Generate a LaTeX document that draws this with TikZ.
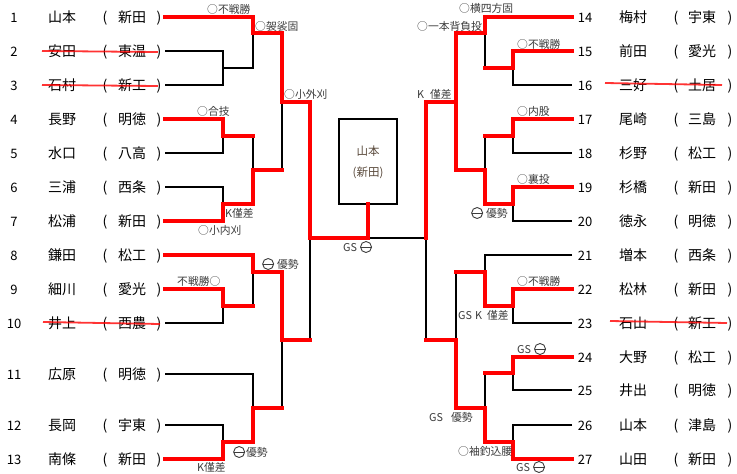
\documentclass[tikz,border=0pt]{standalone}
\usepackage{fontspec}
\setmainfont{Noto Sans CJK JP}
\definecolor{lblc}{HTML}{3C3C3C}
\definecolor{boxc}{HTML}{5A4A3C}
\definecolor{winred}{HTML}{FF0000}
\newcommand{\cminus}{\tikz[baseline=-4pt,x=1pt,y=1pt]{\draw[line width=0.9pt,lblc] (0,0) circle (5.5); \draw[line width=0.9pt,lblc] (-5.5,0)--(5.5,0);}}
\begin{document}
\begin{tikzpicture}[x=1pt,y=-1pt,
  numf/.style={font=\fontsize{13}{13}\selectfont,inner sep=0pt,anchor=base},
  namef/.style={font=\fontsize{14}{14}\selectfont,inner sep=0pt,anchor=base},
  lbl/.style={font=\fontsize{10.8}{10.8}\selectfont,inner sep=0pt,anchor=base west,text=lblc},
  blk/.style={draw=black,line width=1.2pt,line join=miter},
  rd/.style={draw=winred,line width=3.6pt,line join=miter,line cap=rect},
  strike/.style={draw=winred,line width=1.8pt,opacity=0.8}]
\useasboundingbox (0,0) rectangle (737,474);
\fill[white] (0,0) rectangle (737,474);

% players left
\foreach \n/\nm/\sc/\y in {1/山本/新田/17,2/安田/東温/51,3/石村/新工/85,4/長野/明徳/119,5/水口/八高/153,6/三浦/西条/187,7/松浦/新田/221,8/鎌田/松工/255,9/細川/愛光/289,10/井上/西農/323,11/広原/明徳/374,12/長岡/宇東/425,13/南條/新田/459}{
  \node[numf] (ln\n) at (14,\y+5) {\n};
  \node[namef] (lnm\n) at (62,\y+5.5) {\nm};
  \node[namef] (lpo\n) at (105,\y+5) {(};
  \node[namef] (lsc\n) at (132,\y+5.5) {\sc};
  \node[namef] (lpc\n) at (159,\y+5) {)};
}
% players right
\foreach \n/\nm/\sc/\y in {14/梅村/宇東/17,15/前田/愛光/51,16/三好/土居/85,17/尾崎/三島/119,18/杉野/松工/153,19/杉橋/新田/187,20/徳永/明徳/221,21/増本/西条/255,22/松林/新田/289,23/石山/新工/323,24/大野/松工/357,25/井出/明徳/390,26/山本/津島/425,27/山田/新田/459}{
  \node[numf] (rn\n) at (585,\y+5) {\n};
  \node[namef] (rnm\n) at (633,\y+5.5) {\nm};
  \node[namef] (rpo\n) at (676,\y+5) {(};
  \node[namef] (rsc\n) at (702,\y+5.5) {\sc};
  \node[namef] (rpc\n) at (730,\y+5) {)};
}

% champion box
\node[draw=black,line width=1.2pt,minimum width=58pt,minimum height=85pt,inner sep=0pt] (champ) at (368,161.5) {};
\node[font=\fontsize{11.5}{11.5}\selectfont,text=boxc,inner sep=0pt,anchor=base] (chn) at (368,155.5) {山本};
\node[font=\fontsize{11.5}{11.5}\selectfont,text=boxc,inner sep=0pt,anchor=base] (chs) at (368,176.5) {(新田)};

% black lines left
\draw[blk] (165,51) -- (223,51) -- (223,85) -- (165,85);
\draw[blk] (223,68) -- (253,68) -- (253,33);
\draw[blk] (223,136) -- (223,153) -- (165,153);
\draw[blk] (165,187) -- (223,187) -- (223,204);
\draw[blk] (253,136) -- (253,170);
\draw[blk] (282,102) -- (282,170);
\draw[blk] (253,272) -- (253,306);
\draw[blk] (165,323) -- (223,323) -- (223,306);
\draw[blk] (165,374) -- (253,374) -- (253,408);
\draw[blk] (165,425) -- (223,425) -- (223,442);
\draw[blk] (282,340) -- (282,408);
\draw[blk] (310,238) -- (310,340);
\draw[blk] (368,238) -- (426,238) -- (426,340);
% black lines right
\draw[blk] (485,33) -- (485,68);
\draw[blk] (513,68) -- (513,85) -- (572,85);
\draw[blk] (513,136) -- (513,153) -- (572,153);
\draw[blk] (485,136) -- (485,170);
\draw[blk] (513,204) -- (513,221) -- (572,221);
\draw[blk] (572,255) -- (485,255) -- (485,272);
\draw[blk] (513,306) -- (513,323) -- (572,323);
\draw[blk] (456,272) -- (456,340);
\draw[blk] (485,373) -- (485,408);
\draw[blk] (513,373) -- (513,390) -- (572,390);
\draw[blk] (572,425) -- (513,425) -- (513,442);

% red lines left
\draw[rd] (165,17) -- (253,17) -- (253,33) -- (282,33) -- (282,102) -- (310,102) -- (310,238) -- (368,238) -- (368,204);
\draw[rd] (165,119) -- (223,119) -- (223,136) -- (253,136);
\draw[rd] (165,221) -- (223,221) -- (223,204) -- (253,204) -- (253,170) -- (282,170);
\draw[rd] (165,255) -- (253,255) -- (253,272) -- (282,272) -- (282,340) -- (310,340);
\draw[rd] (165,289) -- (223,289) -- (223,306) -- (253,306);
\draw[rd] (165,459) -- (223,459) -- (223,442) -- (253,442) -- (253,408) -- (282,408);
% red lines right
\draw[rd] (572,17) -- (485,17) -- (485,33) -- (456,33) -- (456,102) -- (426,102) -- (426,238);
\draw[rd] (572,51) -- (513,51) -- (513,68) -- (485,68);
\draw[rd] (572,119) -- (513,119) -- (513,136) -- (485,136);
\draw[rd] (572,187) -- (513,187) -- (513,204) -- (485,204) -- (485,170) -- (456,170) -- (456,102);
\draw[rd] (572,289) -- (513,289) -- (513,306) -- (485,306) -- (485,272) -- (456,272);
\draw[rd] (572,357) -- (513,357) -- (513,373) -- (485,373);
\draw[rd] (572,459) -- (513,459) -- (513,442) -- (485,442) -- (485,408) -- (456,408) -- (456,340) -- (426,340);

% strike-throughs
\draw[strike] (42,51) -- (158,52);
\draw[strike] (42,85) -- (158,86);
\draw[strike] (43,322) -- (160,324);
\draw[strike] (605,83) -- (722,85);
\draw[strike] (610,321) -- (727,323);

% labels left
\node[lbl] (a1) at (207,13) {○不戦勝};
\node[lbl] (a2) at (255,30) {○袈裟固};
\node[lbl] (a3) at (284,98) {○小外刈};
\node[lbl] (a4) at (197,115) {○合技};
\node[lbl] (a5) at (225,217) {K僅差};
\node[lbl] (a6) at (198,234) {○小内刈};
\node[lbl] (a7) at (262,268) {\cminus\hspace{3pt}優勢};
\node[lbl] (a8) at (177,285) {不戦勝○};
\node[lbl] (a9) at (233,456) {\cminus\hspace{1pt}優勢};
\node[lbl] (a10) at (197,471) {K僅差};
\node[lbl] (a11) at (343,251) {GS\hspace{3pt}\cminus};
% labels right
\node[lbl] (b1) at (459,12) {○横四方固};
\node[lbl] (b2) at (417,30) {○一本背負投};
\node[lbl] (b3) at (417,98) {K\hspace{6pt}僅差};
\node[lbl] (b4) at (517,48) {○不戦勝};
\node[lbl] (b5) at (517,115) {○内股};
\node[lbl] (b6) at (517,183) {○裏投};
\node[lbl] (b7) at (471,217) {\cminus\hspace{3pt}優勢};
\node[lbl] (b8) at (517,285) {○不戦勝};
\node[lbl] (b9) at (458,319) {GS\hspace{3pt}K\hspace{5pt}僅差};
\node[lbl] (b10) at (517,353) {GS\hspace{3pt}\cminus};
\node[lbl] (b11) at (429,421) {GS\hspace{8pt}優勢};
\node[lbl] (b12) at (458,455) {○袖釣込腰};
\node[lbl] (b13) at (516,471) {GS\hspace{3pt}\cminus};
\end{tikzpicture}
\end{document}
